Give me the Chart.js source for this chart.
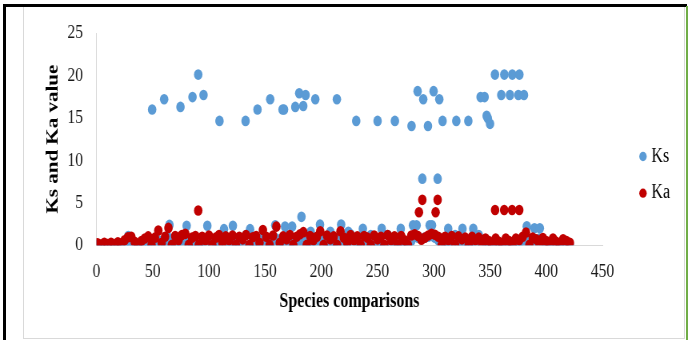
<!DOCTYPE html>
<html><head><meta charset="utf-8">
<script src="https://cdn.jsdelivr.net/npm/chart.js@4/dist/chart.umd.min.js"></script>
<style>
html,body{margin:0;padding:0;background:#fff;width:699px;height:340px;overflow:hidden;position:relative}
#wrap{position:absolute;left:0;top:0;width:874px;height:340px;transform:scaleX(0.8);transform-origin:0 0}
.fr{position:absolute}
</style></head><body>
<div class="fr" style="left:23px;top:6px;width:660px;height:332px;border:1px solid #d9d9d9;border-top:none"></div>
<div class="fr" style="left:3px;top:4px;width:3px;height:336px;background:#000"></div>
<div class="fr" style="left:3px;top:4px;width:684px;height:3px;background:#000"></div>
<div class="fr" style="left:686px;top:6px;width:2px;height:334px;background:#70ad47"></div>
<div id="wrap"><canvas id="c" width="874" height="340"></canvas></div>
<script>
// comparison index (x) for the dense low band
const comparisons = [1,4,7,10,13,16,19,22,25,28,
31,34,37,40,43,46,49,52,55,58,
61,64,67,70,73,76,79,82,85,88,
91,94,97,100,103,106,109,112,115,118,
121,124,127,130,133,136,139,142,145,148,
151,154,157,160,163,166,169,172,175,178,
181,184,187,190,193,196,199,202,205,208,
211,214,217,220,223,226,229,232,235,238,
241,244,247,250,253,256,259,262,265,268,
271,274,277,280,283,286,289,292,295,298,
301,304,307,310,313,316,319,322,325,328,
331,334,337,340,343,346,349,352,355,358,
361,364,367,370,373,376,379,382,385,388,
391,394,397,400,403,406,409,412,415,418,
421];
const ksLow = [0.05,0,0.1,0,0.05,0,0.1,0,0.2,0.4,
0.2,0,0.05,0.1,0,0.3,0.1,0,0.6,0.2,
0.1,0.9,0.3,0,0.5,0.1,0.8,0,0.1,0.3,
0,0.2,0,1.0,0,0.3,0.1,0.9,0,0.2,
0.1,0.4,0,0.2,1.2,0,0.3,0.1,0,0.9,
0.1,0,0.5,0.8,0,0.3,1.1,0,0.2,0.7,
0.4,1.0,0.1,0,0.5,0.2,0.9,0,0.3,0.1,
0,0.3,1.0,0.1,0,1.3,0.2,0,0.4,1.0,
0.1,1.2,0,0.3,0.1,0,1.2,0.2,0,0.4,
0,0.2,0.1,0.5,1.0,0.9,0.8,0.9,1.0,1.1,
0.9,0.6,0,0.2,0.1,0,1.2,0.1,0,0.3,
0.1,0,0.2,1.2,0,0.3,0.1,0,0.2,0,
0.1,0,0.2,0,0.1,0.3,0.2,1.0,0.4,0.6,
0.5,0.8,0.2,0,0.3,0.1,0,0.2,0,0.1,
0];
const kaLow = [0.25,0.1,0.3,0.15,0.3,0.1,0.35,0.2,0.6,0.95,
1.0,0.4,0.05,0.5,0.8,1.05,0.05,0.9,1.75,0.3,
1.0,2.05,0.05,1.1,0.6,1.2,1.35,0.05,0.9,1.1,
0.05,1.0,0.6,1.15,0.05,0.9,1.2,0.3,1.05,0.6,
1.15,0.05,1.0,0.7,1.2,0.05,0.95,1.1,0.3,1.8,
1.0,0.05,1.15,2.2,0.3,1.05,0.7,1.2,0.05,1.0,
1.3,1.55,0.05,1.1,0.6,1.0,1.65,0.05,1.15,0.7,
1.05,0.05,1.65,0.9,0.3,1.2,0.6,1.05,0.05,1.1,
0.9,0.05,1.15,0.7,1.0,0.05,1.2,0.6,1.05,0.05,
1.1,0.6,0.05,1.15,1.3,1.1,0.65,0.9,1.15,1.35,
1.25,1.0,0.05,1.0,0.6,1.1,0.05,1.05,0.7,0.9,
0.05,1.0,0.6,0.9,0.05,0.8,0.5,0.05,0.8,0.4,
0.05,0.8,0.5,0.05,0.8,0.6,1.0,1.5,0.05,0.9,
0.7,0.05,0.85,0.5,0.05,0.8,0.4,0.05,0.7,0.5,
0.3];
// Ks points standing above the band
const ksMidX = [28.3,64.9,80.2,98.6,113.4,121.3,136.6,159,167.7,174,182.3,190.5,198.8,208,217.6,224,236.9,253.7,270.6,281.5,284.7,296.3,298.4,312.8,325.5,335.1,382.7,389.5,394.3,289.8,303.4];
const ksMidY = [1.1,2.4,2.3,2.3,1.9,2.3,1.9,2.35,2.2,2.2,3.35,1.6,2.45,1.6,2.45,1.6,1.95,1.95,1.95,2.35,2.35,2.35,2.35,1.95,1.95,1.95,2.25,2.0,2.0,7.85,7.85];
const ksHighX = [49.5,60.2,74.7,85.4,90.5,95.2,109.4,132.6,143.2,154.5,165.5,166.8,176.8,180.3,183.9,186.0,194.6,213.8,231.0,250.0,265.4,280.2,285.6,290.6,294.8,299.8,304.9,307.8,320.0,330.7,341.6,345.2,347.0,348.0,350.0,354.4,362.7,369.8,376.1,360.0,367.7,375.2,380.2];
const ksHighY = [16.0,17.2,16.3,17.45,20.1,17.7,14.65,14.65,16.0,17.2,16.0,16.0,16.3,17.9,16.4,17.7,17.2,17.2,14.65,14.65,14.65,14.05,18.15,17.2,14.05,18.15,17.2,14.65,14.65,14.65,17.45,17.45,15.25,14.95,14.3,20.1,20.1,20.1,20.1,17.7,17.7,17.7,17.7];
// Ka points standing above the band
const kaPeakX = [90.5,286.8,289.8,301.6,303.4,354.5,362.6,369.6,376];
const kaPeakY = [4.1,3.9,5.35,3.9,5.35,4.15,4.15,4.15,4.15];
const xTickValues = [0,50,100,150,200,250,300,350,400,450];
const yTickValues = [0,5,10,15,20,25];

const pts = (xs, ys) => xs.map((x, i) => ({x: x, y: ys[i]}));
const ksData = pts(comparisons, ksLow).concat(pts(ksMidX, ksMidY), pts(ksHighX, ksHighY));
const kaData = pts(comparisons, kaLow).concat(pts(kaPeakX, kaPeakY));

const serif = "'Liberation Serif', 'Times New Roman', serif";
const tickFont = {family: serif, size: 19.5};
const R = 5.3;

new Chart(document.getElementById('c'), {
  type: 'scatter',
  data: {
    datasets: [
      {label: 'Ks', data: ksData, backgroundColor: '#5b9bd5', borderColor: '#5b9bd5', pointRadius: R, pointHoverRadius: R, pointBorderWidth: 0, order: 1, xAxisID: 'x', yAxisID: 'y'},
      {label: 'Ka', data: kaData, backgroundColor: '#c00000', borderColor: '#c00000', pointRadius: R, pointHoverRadius: R, pointBorderWidth: 0, order: 0, xAxisID: 'x', yAxisID: 'y'}
    ]
  },
  options: {
    responsive: false,
    animation: false,
    events: [],
    layout: {padding: {left: 0, top: 33, right: 32.45, bottom: 23.3}},
    plugins: {
      tooltip: {enabled: false},
      legend: {
        position: 'right',
        maxWidth: 55,
        labels: {
          usePointStyle: true,
          pointStyle: 'circle',
          boxWidth: 1,
          boxHeight: 6.6,
          padding: 16.7,
          color: '#000',
          font: {family: serif, size: 20},
          sort: (a, b) => a.datasetIndex - b.datasetIndex
        }
      }
    },
    scales: {
      x: {
        type: 'linear', min: 0, max: 450,
        afterBuildTicks: s => { s.ticks = xTickValues.map(v => ({value: v})); },
        afterFit: s => { s.height = 340 - 23.3 - 245.3; s.paddingLeft = 0; s.paddingRight = 0; },
        grid: {display: false, drawTicks: false},
        border: {display: true, color: '#d9d9d9', width: 1},
        ticks: {font: tickFont, color: '#1a1a1a', padding: 14.5, maxRotation: 0},
        title: {display: true, text: 'Species comparisons', color: '#000', font: {family: serif, size: 20, weight: 'bold'}, padding: {top: 0, bottom: 3.2}}
      },
      y: {
        type: 'linear', position: 'left', min: 0, max: 25,
        afterBuildTicks: s => { s.ticks = yTickValues.map(v => ({value: v})); },
        afterFit: s => { s.width = 120.6; s.paddingTop = 0; s.paddingBottom = 0; },
        grid: {display: false, drawTicks: false},
        border: {display: true, color: '#d9d9d9', width: 1},
        ticks: {font: tickFont, color: '#1a1a1a', padding: 16.85},
        title: {display: true, text: 'Ks and Ka value', color: '#000', font: {family: serif, size: 21, weight: 'bold'}, padding: {top: 54.3, bottom: 0}}
      },
      gap: {
        type: 'linear', position: 'right', display: true,
        afterFit: s => { s.width = 33.45; s.paddingTop = 0; s.paddingBottom = 0; },
        grid: {display: false, drawTicks: false},
        border: {display: false},
        ticks: {display: false}
      }
    }
  }
});
</script>
</body></html>
